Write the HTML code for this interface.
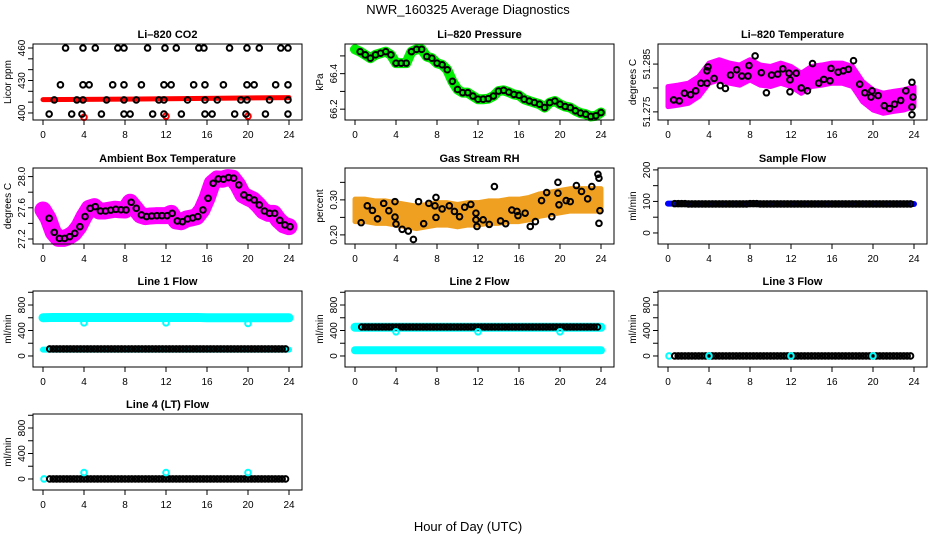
<!DOCTYPE html>
<html><head><meta charset="utf-8">
<style>
body{margin:0;background:#fff;}
svg{display:block;font-family:"Liberation Sans",sans-serif;}
</style></head>
<body>
<svg id="chart" width="936" height="540" viewBox="0 0 936 540">
<rect width="936" height="540" fill="#fff"/>
<text x="468" y="14" text-anchor="middle" font-size="13">NWR_160325  Average Diagnostics</text>
<text x="468" y="531" text-anchor="middle" font-size="13">Hour of Day (UTC)</text>
</svg>
<script>
// ---- data ----
const xTicks = [0,4,8,12,16,20,24];
const halfHours = [0,0.5,1,1.5,2,2.5,3,3.5,4,4.5,5,5.5,6,6.5,7,7.5,8,8.5,9,9.5,10,10.5,11,11.5,12,12.5,13,13.5,14,14.5,15,15.5,16,16.5,17,17.5,18,18.5,19,19.5,20,20.5,21,21.5,22,22.5,23,23.5,24];
const hours = [0,1,2,3,4,5,6,7,8,9,10,11,12,13,14,15,16,17,18,19,20,21,22,23,24];

const co2TopT = [2.2,3.9,5.1,7.3,7.9,10.2,11.9,13.0,15.2,15.7,18.2,19.9,21.1,23.2,23.9];
const co2HighT = [1.7,3.9,4.5,6.8,7.9,9.6,11.8,12.5,14.7,15.8,17.6,19.9,20.6,22.7,23.9];
const co2MidT = [1.1,3.3,3.9,6.2,7.9,9.1,11.3,11.8,14.1,15.8,17.0,19.3,19.9,22.1,23.9];
const co2LowT = [0.6,2.8,3.8,5.7,7.9,8.5,10.7,11.8,13.5,15.8,16.5,18.7,19.8,21.7,23.9];
const co2Levels = [460,426,412,399];
const co2RedT = [0,8,16,24];
const co2RedV = [412.3,412.8,413.5,414.2];
const co2RedOutT = [4,12,20];
const co2RedOutV = [396,397,397];

const pressure = [66.537,66.524,66.506,66.487,66.506,66.515,66.524,66.506,66.459,66.459,66.459,66.524,66.537,66.537,66.496,66.487,66.459,66.450,66.422,66.357,66.311,66.293,66.293,66.274,66.256,66.256,66.259,66.274,66.302,66.306,66.296,66.283,66.278,66.256,66.246,66.237,66.228,66.209,66.237,66.246,66.228,66.215,66.209,66.191,66.178,66.172,66.159,66.163,66.181];

const liTemp = [51.2782,51.2785,51.2789,51.2803,51.2831,51.2838,51.2831,51.2827,51.2838,51.2827,51.2824,51.2831,51.2824,51.2810,51.2824,51.2827,51.2831,51.2831,51.2824,51.2792,51.2775,51.2768,51.2772,51.2775,51.2782];
const liTempBlackT = [0.55,1.1,1.6,2.2,2.7,3.2,3.8,3.8,3.9,4.5,5.1,5.6,6.1,6.7,7.2,7.8,7.9,8.5,9.1,9.6,10.1,10.7,11.2,11.8,11.9,11.9,12.5,13.0,13.6,14.1,14.7,15.2,15.8,15.9,16.6,17.1,17.6,18.1,18.7,19.2,19.8,19.9,20.5,21.1,21.6,22.1,22.7,23.2,23.8,23.9,23.8,23.8];
const liTempBlackV = [51.2775,51.2773,51.2789,51.2786,51.2794,51.2810,51.2810,51.2836,51.2844,51.2820,51.2805,51.2799,51.2827,51.2838,51.2825,51.2825,51.2847,51.2867,51.2832,51.2790,51.2827,51.2829,51.2840,51.2831,51.2792,51.2817,51.2831,51.2800,51.2794,51.2851,51.2810,51.2818,51.2815,51.2841,51.2833,51.2836,51.2839,51.2857,51.2808,51.2790,51.2781,51.2794,51.2784,51.2763,51.2757,51.2766,51.2774,51.2794,51.2812,51.2781,51.2760,51.2744];

const ambient = [27.572,27.465,27.285,27.208,27.208,27.230,27.273,27.358,27.487,27.593,27.615,27.559,27.559,27.570,27.581,27.575,27.572,27.671,27.593,27.508,27.487,27.495,27.499,27.499,27.499,27.529,27.431,27.422,27.457,27.470,27.487,27.572,27.722,27.914,27.970,27.966,27.987,27.979,27.893,27.765,27.730,27.700,27.636,27.559,27.529,27.529,27.440,27.380,27.358];

const rhCenter = [0.27,0.27,0.265,0.265,0.26,0.255,0.25,0.255,0.26,0.26,0.255,0.26,0.26,0.265,0.265,0.27,0.27,0.275,0.285,0.29,0.295,0.30,0.30,0.30,0.30];
const rhBlackT = [0.6,1.2,1.7,2.2,2.8,3.3,3.9,3.9,4,4.6,5.2,5.7,6.2,6.7,7.2,7.8,7.9,7.9,8.5,9.2,9.7,10.2,10.7,11.3,11.8,11.8,11.9,12.5,13.1,13.6,14.2,14.7,15.3,15.8,15.9,16.6,17.1,17.6,18.2,18.7,19.2,19.8,19.8,19.9,20.6,21,21.6,22.1,22.7,23.1,23.7,23.8,23.9,23.8];
const rhBlackV = [0.235,0.283,0.27,0.246,0.29,0.269,0.295,0.251,0.231,0.216,0.211,0.187,0.295,0.232,0.29,0.283,0.307,0.25,0.274,0.283,0.267,0.252,0.279,0.287,0.262,0.243,0.224,0.243,0.23,0.338,0.24,0.232,0.271,0.267,0.255,0.262,0.224,0.238,0.298,0.321,0.252,0.35,0.319,0.286,0.298,0.295,0.341,0.324,0.303,0.338,0.373,0.362,0.269,0.233];

const sampleFlow = [93,93,92,92,92,92,92,92,93,92,92,92,92,92,92,92,92,92,92,92,92,92,92,92,92];
const line1Cyan = [600,605,605,605,605,605,605,605,605,605,605,605,605,605,605,605,600,600,600,600,600,600,600,600,600];
const line1CyanLow = [100,100,100,100,100,100,100,100,100,100,100,100,100,100,100,100,100,100,100,100,100,100,100,100,100];
const line1Black = [110,110,110,110,110,110,110,110,110,110,110,110,110,110,110,110,110,110,110,110,110,110,110,110,110];
const line1OutV = [520,520,510];
const line2Cyan = [450,450,450,450,450,450,450,450,450,450,450,450,450,450,450,450,450,450,450,450,450,450,450,450,450];
const line2CyanLow = [90,90,90,90,90,90,90,90,90,90,90,90,90,90,90,90,90,90,90,90,90,90,90,90,90];
const line2Black = [455,455,455,455,455,455,455,455,455,455,455,455,455,455,455,455,455,455,455,455,455,455,455,455,455];
const line2OutV = [380,380,380];
const line3Black = [0,0,0,0,0,0,0,0,0,0,0,0,0,0,0,0,0,0,0,0,0,0,0,0,0];
const line4Black = [0,0,0,0,0,0,0,0,0,0,0,0,0,0,0,0,0,0,0,0,0,0,0,0,0];
const line3OutV = [0,0,0];
const line4OutV = [100,100,100];
const outT = [4,12,20];

// ---- drawing ----
const svg = document.getElementById('chart');
const NS = 'http://www.w3.org/2000/svg';
const colX0 = [43,355,668];
const rowTop = [44,168,291,414];
const PH = 76, PPH = 10.25;
function mk(tag, attrs, parent){
  const e = document.createElementNS(NS, tag);
  for (const k in attrs) e.setAttribute(k, attrs[k]);
  (parent||svg).appendChild(e);
  return e;
}
function panel(col,row,title,ylab,ymin,ymax,ticks,labels,name){
  const g = mk('g',{});
  
  
  const x0 = colX0[col], top = rowTop[row], bot = top+PH;
  const X = t => x0 + t*PPH;
  const Y = v => bot - (v-ymin)/(ymax-ymin)*PH;
  const L = x0-10, R = x0+259;
  const t = mk('text',{x:(L+R)/2,y:top-6,'text-anchor':'middle','font-size':11,'font-weight':'bold'},g);
  t.textContent = title;
  
  
  const yl = mk('text',{transform:`translate(${L-22},${(top+bot)/2}) rotate(-90)`,'text-anchor':'middle','font-size':10},g);
  yl.textContent = ylab;
  
  
  xTicks.forEach(v=>{
    mk('line',{x1:X(v),x2:X(v),y1:bot,y2:bot+5,stroke:'#000'},g);
    const tl = mk('text',{x:X(v),y:bot+18,'text-anchor':'middle','font-size':10},g);
    tl.textContent = v;
    
    
  });
  ticks.forEach(v=>{
    mk('line',{x1:L,x2:L-5,y1:Y(v),y2:Y(v),stroke:'#000'},g);
  });
  labels.forEach(v=>{
    const tl = mk('text',{transform:`translate(${L-8},${Y(v)}) rotate(-90)`,'text-anchor':'middle','font-size':10},g);
    tl.textContent = v;
    
    
  });
  const plot = mk('g',{},g);
  mk('rect',{x:L,y:top,width:R-L,height:PH,fill:'none',stroke:'#000','stroke-width':1},g);
  return {X,Y,g:plot};
}
function circ(p,t,v,color,name){
  const c = mk('circle',{cx:p.X(t),cy:p.Y(v),r:2.8,fill:'none',stroke:color,'stroke-width':2},p.g);
  
  
}
function band(p,ts,vs,color,w,name){
  const pl = mk('polyline',{points:ts.map((t,i)=>p.X(t)+','+p.Y(vs[i])).join(' '),fill:'none',stroke:color,'stroke-width':w,'stroke-linecap':'round','stroke-linejoin':'round'},p.g);
  
  
}
function spreadBand(p,ts,vs,sp,color,name){
  const up = ts.map((t,i)=>p.X(t)+','+p.Y(vs[i]+sp));
  const dn = ts.map((t,i)=>p.X(t)+','+p.Y(vs[i]-sp)).reverse();
  const pg = mk('polygon',{points:up.concat(dn).join(' '),fill:color,stroke:color,'stroke-width':5,'stroke-linejoin':'round'},p.g);
  
  
}
function flowBlack(p,arr,color,name){
  hours.forEach((h,i)=>{ [0.5,0.83,1.16].forEach(o=>{ const t=h+o-0.5; if(t>=0.5&&t<=23.9) circ(p,t,arr[i],color,name); }); });
}

let p = panel(0,0,'Li–820 CO2','Licor ppm',393.5,463.7,[400,410,420,430,440,450,460],[400,430,460],'panel-co2');
band(p,co2RedT,co2RedV,'#ff0000',5,'co2-red-series');
co2RedOutT.forEach((t,i)=>circ(p,t,co2RedOutV[i],'#ff0000','co2-red-outlier'));
[co2TopT,co2HighT,co2MidT,co2LowT].forEach((arr,k)=>arr.forEach(t=>circ(p,t,co2Levels[k],'#000','co2-black-point')));

p = panel(1,0,'Li–820 Pressure','kPa',66.139,66.567,[66.2,66.3,66.4,66.5],['66.2','66.4'],'panel-pressure');
band(p,halfHours,pressure,'#00ee00',10,'pressure-green-series');
halfHours.forEach((t,i)=>{ if(i>0) circ(p,t,pressure[i],'#000','pressure-black-point'); });

p = panel(2,0,'Li–820 Temperature','degrees C',51.2733,51.2892,[51.275,51.28,51.285],['51.275','51.285'],'panel-li-temp');
spreadBand(p,hours,liTemp,0.0021,'#ff00ff','li-temp-magenta-series');
liTempBlackT.forEach((t,i)=>circ(p,t,liTempBlackV[i],'#000','li-temp-black-point'));

p = panel(0,1,'Ambient Box Temperature','degrees C',27.136,28.11,[27.2,27.4,27.6,27.8,28.0],['27.2','27.6','28.0'],'panel-ambient');
band(p,halfHours,ambient,'#ff00ff',17,'ambient-magenta-series');
halfHours.forEach((t,i)=>{ if(i>0) circ(p,t+0.1,ambient[i],'#000','ambient-black-point'); });

p = panel(1,1,'Gas Stream RH','percent',0.174,0.391,[0.20,0.25,0.30,0.35],['0.20','0.30'],'panel-rh');
spreadBand(p,hours,rhCenter,0.032,'#f0a020','rh-orange-series');
rhBlackT.forEach((t,i)=>circ(p,t,rhBlackV[i],'#000','rh-black-point'));

p = panel(2,1,'Sample Flow','ml/min',-35,206,[0,50,100,150,200],[0,100,200],'panel-sample-flow');
band(p,hours,sampleFlow,'#0000ff',6,'sample-flow-blue-series');
flowBlack(p,sampleFlow,'#000','sample-flow-black-point');

const flowTicks=[0,200,400,600,800,1000], flowLabels=[0,400,800];
p = panel(0,2,'Line 1 Flow','ml/min',-173,1020,flowTicks,flowLabels,'panel-line1');
band(p,hours,line1Cyan,'#00ffff',9,'line1-cyan-series');
band(p,hours,line1CyanLow,'#00ffff',6,'line1-cyan-low-series');
flowBlack(p,line1Black,'#000','line1-black-point');
outT.forEach((t,i)=>circ(p,t,line1OutV[i],'#00ffff','line1-outlier'));

p = panel(1,2,'Line 2 Flow','ml/min',-173,1020,flowTicks,flowLabels,'panel-line2');
band(p,hours,line2Cyan,'#00ffff',9,'line2-cyan-series');
band(p,hours,line2CyanLow,'#00ffff',8,'line2-cyan-low-series');
flowBlack(p,line2Black,'#000','line2-black-point');
outT.forEach((t,i)=>circ(p,t,line2OutV[i],'#00ffff','line2-outlier'));

p = panel(2,2,'Line 3 Flow','ml/min',-173,1020,flowTicks,flowLabels,'panel-line3');
circ(p,0.1,0,'#00ffff','line3-cyan-point');
flowBlack(p,line3Black,'#000','line3-black-point');
outT.forEach((t,i)=>circ(p,t,line3OutV[i],'#00ffff','line3-outlier'));

p = panel(0,3,'Line 4 (LT) Flow','ml/min',-173,1020,flowTicks,flowLabels,'panel-line4');
circ(p,0.1,0,'#00ffff','line4-cyan-point');
flowBlack(p,line4Black,'#000','line4-black-point');
outT.forEach((t,i)=>circ(p,t,line4OutV[i],'#00ffff','line4-outlier'));
</script>
</body></html>
